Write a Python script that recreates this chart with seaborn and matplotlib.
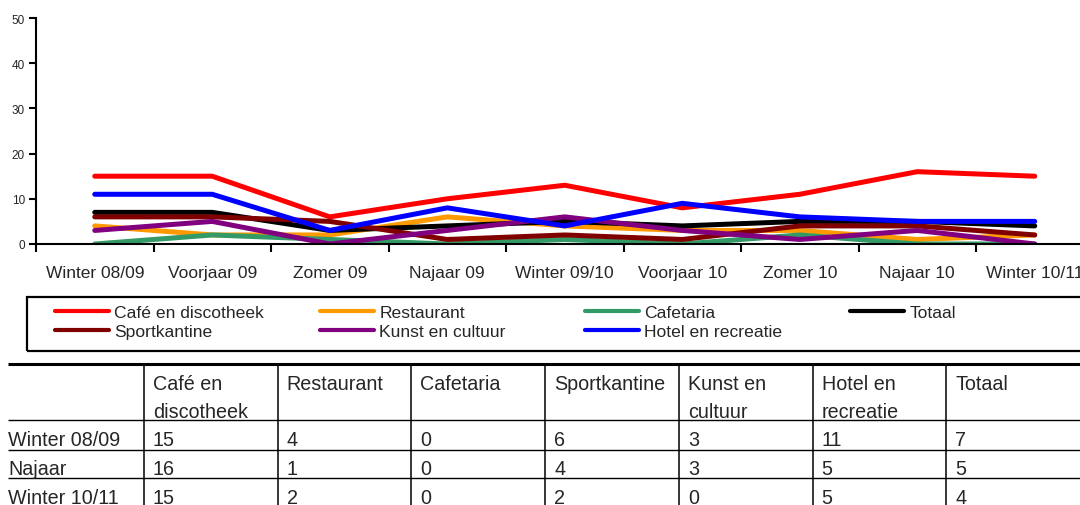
import matplotlib
matplotlib.use("Agg")
import matplotlib.pyplot as plt
import matplotlib.patches as mpatches
from matplotlib.lines import Line2D
import numpy as np
import pandas as pd
import seaborn as sns

# data
seasons = ["Winter 08/09", "Voorjaar 09", "Zomer 09", "Najaar 09", "Winter 09/10",
           "Voorjaar 10", "Zomer 10", "Najaar 10", "Winter 10/11"]
cafe = [15, 15, 6, 10, 13, 8, 11, 16, 15]
restaurant = [4, 2, 2, 6, 4, 3, 3, 1, 2]
cafetaria = [0, 2, 1, 0, 1, 0, 2, 0, 0]
totaal = [7, 7, 3, 4, 5, 4, 5, 5, 4]
sportkantine = [6, 6, 5, 1, 2, 1, 4, 4, 2]
kunst = [3, 5, 0, 3, 6, 3, 1, 3, 0]
hotel = [11, 11, 3, 8, 4, 9, 6, 5, 5]

series_names = ["Café en discotheek", "Restaurant", "Cafetaria", "Totaal",
                "Sportkantine", "Kunst en cultuur", "Hotel en recreatie"]
series_values = [cafe, restaurant, cafetaria, totaal, sportkantine, kunst, hotel]
series_colors = ["#FF0000", "#FF9900", "#339966", "#000000",
                 "#800000", "#800080", "#0000FF"]

# table: header labels and which seasons appear as rows
table_cols = ["Café en\ndiscotheek", "Restaurant", "Cafetaria", "Sportkantine",
              "Kunst en\ncultuur", "Hotel en\nrecreatie", "Totaal"]
table_series = ["Café en discotheek", "Restaurant", "Cafetaria", "Sportkantine",
                "Kunst en cultuur", "Hotel en recreatie", "Totaal"]
table_rows = ["Winter 08/09", "Najaar", "Winter 10/11"]
table_idx = [0, 7, 8]

sns.set_style("ticks")
plt.rcParams["font.family"] = ["Liberation Sans", "DejaVu Sans"]

W, H = 1080, 506
fig = plt.figure(figsize=(W / 100, H / 100), dpi=100)

# long-form frame for seaborn
rows = []
for name, vals in zip(series_names, series_values):
    for i, v in enumerate(vals):
        rows.append({"pos": i, "value": v, "series": name})
df = pd.DataFrame(rows)

ax = fig.add_axes([36 / W, (H - 245) / H, 1057.5 / W, 226 / H])
sns.lineplot(data=df, x="pos", y="value", hue="series", hue_order=series_names,
             palette=dict(zip(series_names, series_colors)), linewidth=3.6,
             legend=False, ax=ax, solid_capstyle="round", solid_joinstyle="round")

ax.set_xlim(-0.5, len(seasons) - 0.5)
ax.set_ylim(0, 50)
ax.set_xlabel("")
ax.set_ylabel("")
ax.set_xticks(np.arange(-0.5, len(seasons), 1))
ax.set_xticklabels([])
ax.set_xticks(np.arange(len(seasons)), minor=True)
ax.set_xticklabels(seasons, minor=True)
ax.tick_params(axis="x", which="major", direction="out", length=6, width=1.5, color="black")
ax.tick_params(axis="x", which="minor", length=0, pad=15, labelsize=12.5)
ax.set_yticks(range(0, 51, 10))
ax.tick_params(axis="y", direction="out", length=5, width=1.5, pad=3, labelsize=8.5, color="black")
sns.despine(ax=ax)
for s in ["left", "bottom"]:
    ax.spines[s].set_linewidth(1.5)
    ax.spines[s].set_color("black")

# legend: four columns, each its own legend so columns are evenly spaced
color_of = dict(zip(series_names, series_colors))
legend_cols = [["Café en discotheek", "Sportkantine"],
               ["Restaurant", "Kunst en cultuur"],
               ["Cafetaria", "Hotel en recreatie"],
               ["Totaal"]]
for i, names in enumerate(legend_cols):
    handles = [Line2D([], [], color=color_of[n], lw=3, solid_capstyle="round") for n in names]
    fig.legend(handles, names, loc="upper left",
               bbox_to_anchor=((55 + 265 * i) / W, (H - 306) / H),
               frameon=False, borderpad=0, borderaxespad=0,
               handlelength=3.1, handletextpad=0.28, labelspacing=0.2,
               fontsize=12.6)
fig.add_artist(mpatches.Rectangle((27 / W, (H - 352) / H), 1.0, 54 / H,
                                  transform=fig.transFigure, fill=False,
                                  edgecolor="black", linewidth=1.6))

# table drawn in a pixel-scaled helper axes
tax = fig.add_axes([0, 0, 1, 1], zorder=-1)
tax.set_xlim(0, W)
tax.set_ylim(H, 0)
tax.axis("off")

col_edges = [144 + 133.7 * k for k in range(len(table_cols) + 1)]
tax.hlines(365, 8, W, color="black", lw=2.2)
for y in [421, 450.5, 479]:
    tax.hlines(y, 8, W, color="black", lw=1.0)
for x in col_edges[:-1]:
    tax.vlines(x, 365, H, color="black", lw=1.1)

tfs = 14.2
for k, label in enumerate(table_cols):
    for j, line in enumerate(label.split("\n")):
        tax.text(col_edges[k] + 9, 390 + 28 * j, line, fontsize=tfs, va="baseline")

baselines = [446, 475, 504]
lookup = dict(zip(series_names, series_values))
for r, (rlabel, idx) in enumerate(zip(table_rows, table_idx)):
    tax.text(8, baselines[r], rlabel, fontsize=tfs, va="baseline")
    for k, name in enumerate(table_series):
        tax.text(col_edges[k] + 9, baselines[r], str(lookup[name][idx]),
                 fontsize=tfs, va="baseline")

fig.savefig("out.png", dpi=100)
